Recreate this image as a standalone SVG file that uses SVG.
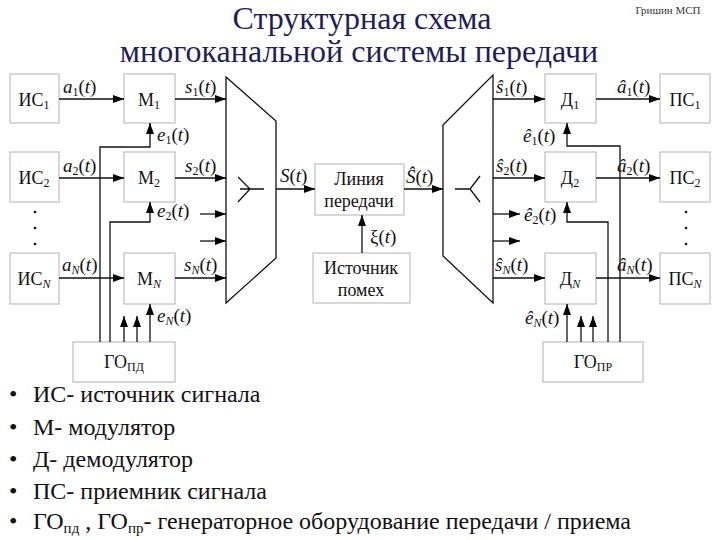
<svg xmlns="http://www.w3.org/2000/svg" width="720" height="540" viewBox="0 0 720 540">
<defs>
<marker id="ah" markerUnits="userSpaceOnUse" markerWidth="11" markerHeight="8" refX="11" refY="4" orient="auto">
<path d="M0,0 L11,4 L0,8 z" fill="#000"/>
</marker>
<style>
text{font-family:"Liberation Serif","Times New Roman",serif}
.box{fill:#fff;stroke:#c4c4c4;stroke-width:1.3}
.bt{font-size:18px;fill:#111;text-anchor:middle}
.sub{font-size:12px}
.lb{font-size:19px;font-style:italic;fill:#111}
.up{font-style:normal}
.ln{fill:none;stroke:#111;stroke-width:1.3}
.ar{fill:none;stroke:#111;stroke-width:1.3;marker-end:url(#ah)}
.lg{font-size:24px;fill:#111}
.tt{font-size:32px;fill:#1f1f58;text-anchor:middle}
</style>
</defs>
<rect width="720" height="540" fill="#fff"/>

<text class="tt" x="362" y="29">Структурная схема</text>
<text class="tt" x="359" y="62">многоканальной системы передачи</text>
<text x="668" y="14" font-size="11" fill="#333" text-anchor="middle">Гришин МСП</text>

<g id="mux"><polygon points="226,77 276,121 276,258 226,303" class="ln"/><path d="M238,177 L250,189 L238,202 M240,189 L264,189" class="ln"/></g>
<g id="demux"><polygon points="443,125 493,75 493,303 443,256" class="ln"/><path d="M455,189 L470,189 M480,176 L470,189 L480,202" class="ln"/></g>

<g id="is1"><rect class="box" x="10" y="74" width="49" height="49"/><text class="bt" x="34" y="106">ИС<tspan class="sub" dy="3">1</tspan></text></g>
<g id="is2"><rect class="box" x="10" y="152" width="49" height="50"/><text class="bt" x="34" y="184">ИС<tspan class="sub" dy="3">2</tspan></text></g>
<g id="isN"><rect class="box" x="10" y="253" width="49" height="51"/><text class="bt" x="34" y="285">ИС<tspan class="sub" dy="3" font-style="italic">N</tspan></text></g>
<g id="m1"><rect class="box" x="124" y="74" width="51" height="49"/><text class="bt" x="149" y="106">М<tspan class="sub" dy="3">1</tspan></text></g>
<g id="m2"><rect class="box" x="124" y="152" width="51" height="50"/><text class="bt" x="149" y="184">М<tspan class="sub" dy="3">2</tspan></text></g>
<g id="mN"><rect class="box" x="124" y="253" width="51" height="51"/><text class="bt" x="149" y="285">М<tspan class="sub" dy="3" font-style="italic">N</tspan></text></g>
<g id="gopd"><rect class="box" x="73" y="342" width="102" height="40"/><text class="bt" x="124" y="368">ГО<tspan class="sub" dy="3">ПД</tspan></text></g>
<g id="line"><rect class="box" x="315" y="164" width="89" height="51"/><text class="bt" x="359" y="185">Линия</text><text class="bt" x="359" y="207">передачи</text></g>
<g id="noise"><rect class="box" x="313" y="253" width="97" height="50"/><text class="bt" x="361" y="274">Источник</text><text class="bt" x="361" y="296">помех</text></g>
<g id="d1"><rect class="box" x="545" y="74" width="51" height="49"/><text class="bt" x="570" y="106">Д<tspan class="sub" dy="3">1</tspan></text></g>
<g id="d2"><rect class="box" x="545" y="152" width="51" height="50"/><text class="bt" x="570" y="184">Д<tspan class="sub" dy="3">2</tspan></text></g>
<g id="dN"><rect class="box" x="545" y="253" width="51" height="51"/><text class="bt" x="570" y="285">Д<tspan class="sub" dy="3" font-style="italic">N</tspan></text></g>
<g id="ps1"><rect class="box" x="660" y="74" width="50" height="49"/><text class="bt" x="685" y="106">ПС<tspan class="sub" dy="3">1</tspan></text></g>
<g id="ps2"><rect class="box" x="660" y="152" width="50" height="50"/><text class="bt" x="685" y="184">ПС<tspan class="sub" dy="3">2</tspan></text></g>
<g id="psN"><rect class="box" x="660" y="253" width="50" height="51"/><text class="bt" x="685" y="285">ПС<tspan class="sub" dy="3" font-style="italic">N</tspan></text></g>
<g id="gopr"><rect class="box" x="543" y="342" width="100" height="40"/><text class="bt" x="593" y="368">ГО<tspan class="sub" dy="3">ПР</tspan></text></g>

<g id="dots" fill="#111"><circle cx="35" cy="212" r="1.3"/><circle cx="35" cy="228" r="1.3"/><circle cx="35" cy="244" r="1.3"/><circle cx="686" cy="212" r="1.3"/><circle cx="686" cy="228" r="1.3"/><circle cx="686" cy="244" r="1.3"/></g>

<g id="connectors">
<path class="ar" d="M59,99 L124,99"/>
<path class="ar" d="M175,99 L226,99"/>
<path class="ar" d="M59,178 L124,178"/>
<path class="ar" d="M175,178 L226,178"/>
<path class="ar" d="M59,278 L124,278"/>
<path class="ar" d="M175,278 L226,278"/>
<path class="ar" d="M200,214 L226,214"/>
<path class="ar" d="M200,241 L226,241"/>
<path class="ar" d="M100,342 L100,147 L150,147 L150,123"/>
<path class="ar" d="M110,342 L110,222 L150,222 L150,202"/>
<path class="ar" d="M150,342 L150,304"/>
<path class="ar" d="M124,342 L124,316"/>
<path class="ar" d="M137,342 L137,316"/>
<path class="ar" d="M276,189 L315,189"/>
<path class="ar" d="M362,253 L362,215"/>
<path class="ar" d="M404,189 L443,189"/>
<path class="ar" d="M493,99 L545,99"/>
<path class="ar" d="M596,99 L660,99"/>
<path class="ar" d="M493,178 L545,178"/>
<path class="ar" d="M596,178 L660,178"/>
<path class="ar" d="M493,278 L545,278"/>
<path class="ar" d="M596,278 L660,278"/>
<path class="ar" d="M493,214 L520,214"/>
<path class="ar" d="M493,241 L520,241"/>
<path class="ar" d="M620,342 L620,146 L567,146 L567,123"/>
<path class="ar" d="M608,342 L608,222 L567,222 L567,202"/>
<path class="ar" d="M567,342 L567,304"/>
<path class="ar" d="M581,342 L581,316"/>
<path class="ar" d="M593,342 L593,316"/>
</g>

<g id="labels">
<text class="lb" x="63" y="93">a<tspan class="sub up" dy="3">1</tspan><tspan class="up" dy="-3">(</tspan>t<tspan class="up">)</tspan></text>
<text class="lb" x="185" y="93">s<tspan class="sub up" dy="3">1</tspan><tspan class="up" dy="-3">(</tspan>t<tspan class="up">)</tspan></text>
<text class="lb" x="157" y="141">e<tspan class="sub up" dy="3">1</tspan><tspan class="up" dy="-3">(</tspan>t<tspan class="up">)</tspan></text>
<text class="lb" x="63" y="172">a<tspan class="sub up" dy="3">2</tspan><tspan class="up" dy="-3">(</tspan>t<tspan class="up">)</tspan></text>
<text class="lb" x="185" y="172">s<tspan class="sub up" dy="3">2</tspan><tspan class="up" dy="-3">(</tspan>t<tspan class="up">)</tspan></text>
<text class="lb" x="157" y="217">e<tspan class="sub up" dy="3">2</tspan><tspan class="up" dy="-3">(</tspan>t<tspan class="up">)</tspan></text>
<text class="lb" x="62" y="271">a<tspan class="sub" dy="3">N</tspan><tspan class="up" dy="-3">(</tspan>t<tspan class="up">)</tspan></text>
<text class="lb" x="184" y="271">s<tspan class="sub" dy="3">N</tspan><tspan class="up" dy="-3">(</tspan>t<tspan class="up">)</tspan></text>
<text class="lb" x="157" y="322">e<tspan class="sub" dy="3">N</tspan><tspan class="up" dy="-3">(</tspan>t<tspan class="up">)</tspan></text>
<text class="lb" x="280" y="182">S<tspan class="up">(</tspan>t<tspan class="up">)</tspan></text>
<text class="lb" x="370" y="243"><tspan class="up">ξ(</tspan>t<tspan class="up">)</tspan></text>
<text class="lb" x="406" y="183">Ŝ<tspan class="up">(</tspan>t<tspan class="up">)</tspan></text>
<text class="lb" x="496" y="93">ŝ<tspan class="sub up" dy="3">1</tspan><tspan class="up" dy="-3">(</tspan>t<tspan class="up">)</tspan></text>
<text class="lb" x="617" y="93">â<tspan class="sub up" dy="3">1</tspan><tspan class="up" dy="-3">(</tspan>t<tspan class="up">)</tspan></text>
<text class="lb" x="523" y="142">ê<tspan class="sub up" dy="3">1</tspan><tspan class="up" dy="-3">(</tspan>t<tspan class="up">)</tspan></text>
<text class="lb" x="496" y="172">ŝ<tspan class="sub up" dy="3">2</tspan><tspan class="up" dy="-3">(</tspan>t<tspan class="up">)</tspan></text>
<text class="lb" x="617" y="172">â<tspan class="sub up" dy="3">2</tspan><tspan class="up" dy="-3">(</tspan>t<tspan class="up">)</tspan></text>
<text class="lb" x="524" y="221">ê<tspan class="sub up" dy="3">2</tspan><tspan class="up" dy="-3">(</tspan>t<tspan class="up">)</tspan></text>
<text class="lb" x="495" y="271">ŝ<tspan class="sub" dy="3">N</tspan><tspan class="up" dy="-3">(</tspan>t<tspan class="up">)</tspan></text>
<text class="lb" x="617" y="271">â<tspan class="sub" dy="3">N</tspan><tspan class="up" dy="-3">(</tspan>t<tspan class="up">)</tspan></text>
<text class="lb" x="525" y="324">ê<tspan class="sub" dy="3">N</tspan><tspan class="up" dy="-3">(</tspan>t<tspan class="up">)</tspan></text>
</g>

<g id="legend">
<text class="lg" x="9" y="402">•</text><text class="lg" x="33" y="402">ИС- источник сигнала</text>
<text class="lg" x="9" y="435">•</text><text class="lg" x="33" y="435">М- модулятор</text>
<text class="lg" x="9" y="467">•</text><text class="lg" x="33" y="467">Д- демодулятор</text>
<text class="lg" x="9" y="499">•</text><text class="lg" x="33" y="499">ПС- приемник сигнала</text>
<text class="lg" x="9" y="529">•</text><text class="lg" x="33" y="529">ГО<tspan font-size="15" dy="4">пд</tspan><tspan dy="-4"> , ГО</tspan><tspan font-size="15" dy="4">пр</tspan><tspan dy="-4">- генераторное оборудование передачи / приема</tspan></text>
</g>
</svg>
